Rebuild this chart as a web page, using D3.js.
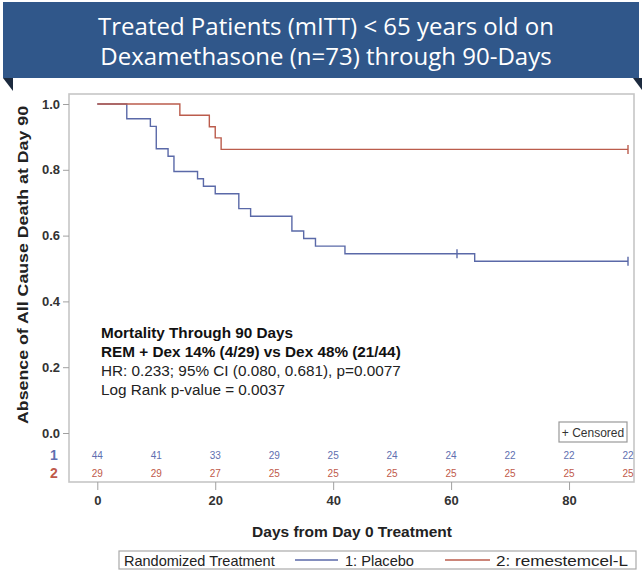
<!DOCTYPE html>
<html>
<head>
<meta charset="utf-8">
<script src="https://cdn.jsdelivr.net/npm/d3@7"></script>
<style>
  html, body { margin: 0; padding: 0; background: #fff; }
  svg { display: block; }
</style>
</head>
<body>
<svg id="chart" width="642" height="579"></svg>
<script>
// Kaplan-Meier step data: day of each event and survival after it
const placeboDays = [0, 5, 9, 10, 12, 13, 17, 18, 20, 24, 26, 33, 35, 37, 42, 64, 90];
const placeboSurv = [1.0, 0.955, 0.932, 0.864, 0.841, 0.795, 0.773, 0.750, 0.727, 0.682, 0.659, 0.614, 0.591, 0.568, 0.545, 0.522, 0.522];
const remDays = [0, 14, 19, 20, 21, 90];
const remSurv = [1.0, 0.966, 0.931, 0.897, 0.862, 0.862];

// Censored observations
const placeboCensorDays = [61, 90];
const placeboCensorSurv = [0.545, 0.522];
const remCensorDays = [90];
const remCensorSurv = [0.862];

// Number at risk
const riskDays = [0, 10, 20, 30, 40, 50, 60, 70, 80, 90];
const placeboAtRisk = [44, 41, 33, 29, 25, 24, 24, 22, 22, 22];
const remAtRisk = [29, 29, 27, 25, 25, 25, 25, 25, 25, 25];

const xTicks = [0, 20, 40, 60, 80];
const yTicks = [0, 0.2, 0.4, 0.6, 0.8, 1.0];

const titleLines = ["Treated Patients (mITT) < 65 years old on", "Dexamethasone (n=73) through 90-Days"];
const noteLines = [
  { text: "Mortality Through 90 Days", bold: true },
  { text: "REM + Dex 14% (4/29) vs Dex 48% (21/44)", bold: true },
  { text: "HR: 0.233;  95% CI (0.080, 0.681), p=0.0077", bold: false },
  { text: "Log Rank p-value = 0.0037", bold: false }
];
const seriesNames = ["1: Placebo", "2: remestemcel-L"];

const BLUE = "#5a69a8";
const RED = "#bb5c4c";
const SANS = "'Liberation Sans', Arial, sans-serif";

const svg = d3.select("#chart");

// ---- Header banner ----
svg.append("path").attr("d", "M3,78 L13,78 L13,91 Z").attr("fill", "#1c2a3e");
svg.append("path").attr("d", "M633,78 L642,78 L642,90 Z").attr("fill", "#1c2a3e");
svg.append("rect").attr("x", 3).attr("y", 2).attr("width", 636).attr("height", 76).attr("fill", "#30578a");
svg.append("g").selectAll("text").data(titleLines).join("text")
  .attr("x", 326).attr("y", (d, i) => 35 + i * 30)
  .attr("text-anchor", "middle")
  .attr("fill", "#ffffff")
  .style("font-family", "'Open Sans', 'DejaVu Sans', sans-serif")
  .style("font-size", "24px")
  .text(d => d);

// ---- Plot area ----
const frame = { x: 69, y: 94, w: 565, h: 388 };
const x = d3.scaleLinear().domain([0, 90]).range([97.3, 628]);
const y = d3.scaleLinear().domain([0, 1]).range([433, 104]);

svg.append("rect")
  .attr("x", frame.x).attr("y", frame.y).attr("width", frame.w).attr("height", frame.h)
  .attr("fill", "none").attr("stroke", "#c6c6c6").attr("stroke-width", 1.6);

// y axis
const yAxis = d3.axisLeft(y).tickValues(yTicks).tickFormat(d3.format(".1f")).tickSize(6).tickPadding(3);
const gy = svg.append("g").attr("transform", `translate(${frame.x},0)`).call(yAxis);
gy.select(".domain").remove();
gy.selectAll(".tick line").attr("stroke", "#a0a0a0");
gy.selectAll(".tick text")
  .attr("fill", "#333").style("font-family", SANS).style("font-weight", "bold").style("font-size", "13px");

// x axis
const xAxis = d3.axisBottom(x).tickValues(xTicks).tickSize(8).tickPadding(6);
const gx = svg.append("g").attr("transform", `translate(0,${frame.y + frame.h})`).call(xAxis);
gx.select(".domain").remove();
gx.selectAll(".tick line").attr("stroke", "#a0a0a0");
gx.selectAll(".tick text")
  .attr("fill", "#333").style("font-family", SANS).style("font-weight", "bold").style("font-size", "13px");

// axis titles
svg.append("text")
  .attr("transform", "translate(28,265) rotate(-90)")
  .attr("text-anchor", "middle")
  .attr("fill", "#222")
  .attr("textLength", 318).attr("lengthAdjust", "spacingAndGlyphs")
  .style("font-family", SANS).style("font-weight", "bold").style("font-size", "15px")
  .text("Absence of All Cause Death at Day 90");

svg.append("text")
  .attr("x", 352).attr("y", 537)
  .attr("text-anchor", "middle")
  .attr("fill", "#222")
  .style("font-family", SANS).style("font-weight", "bold").style("font-size", "15.5px")
  .text("Days from Day 0 Treatment");

// ---- Survival curves ----
const step = d3.line().x(d => x(d[0])).y(d => y(d[1])).curve(d3.curveStepAfter);
const series = [
  { days: placeboDays, surv: placeboSurv, cd: placeboCensorDays, cs: placeboCensorSurv, color: BLUE },
  { days: remDays, surv: remSurv, cd: remCensorDays, cs: remCensorSurv, color: RED }
];
series.forEach(s => {
  svg.append("path")
    .datum(s.days.map((d, i) => [d, s.surv[i]]))
    .attr("d", step)
    .attr("fill", "none").attr("stroke", s.color).attr("stroke-width", 1.4);
  svg.append("g").selectAll("line").data(s.cd.map((d, i) => [d, s.cs[i]])).join("line")
    .attr("x1", d => x(d[0])).attr("x2", d => x(d[0]))
    .attr("y1", d => y(d[1]) - 4.5).attr("y2", d => y(d[1]) + 4.5)
    .attr("stroke", s.color).attr("stroke-width", 1.4);
});

// ---- Annotation ----
svg.append("g").selectAll("text").data(noteLines).join("text")
  .attr("x", 101).attr("y", (d, i) => 338 + i * 19)
  .attr("fill", d => d.bold ? "#111" : "#222")
  .style("font-family", SANS)
  .style("font-weight", d => d.bold ? "bold" : "normal")
  .style("font-size", "15.3px")
  .text(d => d.text);

// ---- Censored legend box ----
svg.append("rect").attr("x", 559).attr("y", 422).attr("width", 68).attr("height", 20)
  .attr("fill", "#fff").attr("stroke", "#999").attr("stroke-width", 1.2);
svg.append("text").attr("x", 593).attr("y", 436.5).attr("text-anchor", "middle")
  .attr("fill", "#333").style("font-family", SANS).style("font-size", "12px")
  .text("+ Censored");

// ---- Number at risk ----
const riskRows = [
  { label: "1", values: placeboAtRisk, color: "#5f6fb0", yPos: 455 },
  { label: "2", values: remAtRisk, color: "#c0594a", yPos: 473 }
];
riskRows.forEach(r => {
  svg.append("text").attr("x", 54).attr("y", r.yPos + 5).attr("text-anchor", "middle")
    .attr("fill", r.color).style("font-family", SANS).style("font-weight", "bold").style("font-size", "14px")
    .text(r.label);
  svg.append("g").selectAll("text").data(riskDays.map((d, i) => [d, r.values[i]])).join("text")
    .attr("x", d => x(d[0])).attr("y", r.yPos + 3.5)
    .attr("text-anchor", "middle")
    .attr("fill", r.color)
    .style("font-family", SANS).style("font-size", "10px")
    .text(d => d[1]);
});

// ---- Bottom legend ----
const lg = svg.append("g");
lg.append("rect").attr("x", 119).attr("y", 551).attr("width", 517).attr("height", 18)
  .attr("fill", "#fff").attr("stroke", "#aaa").attr("stroke-width", 1.2);
lg.append("text").attr("x", 124).attr("y", 565.5)
  .attr("fill", "#222").style("font-family", SANS).style("font-size", "14.5px")
  .text("Randomized Treatment");
const legendItems = [
  { name: seriesNames[0], color: BLUE, x0: 295, x1: 338, tx: 345, len: 69 },
  { name: seriesNames[1], color: RED, x0: 445, x1: 490, tx: 496, len: 132 }
];
legendItems.forEach(it => {
  lg.append("line").attr("x1", it.x0).attr("x2", it.x1).attr("y1", 560).attr("y2", 560)
    .attr("stroke", it.color).attr("stroke-width", 1.3);
  lg.append("text").attr("x", it.tx).attr("y", 565.5)
    .attr("fill", "#222")
    .attr("textLength", it.len).attr("lengthAdjust", "spacingAndGlyphs")
    .style("font-family", SANS).style("font-size", "14.5px")
    .text(it.name);
});
</script>
</body>
</html>
